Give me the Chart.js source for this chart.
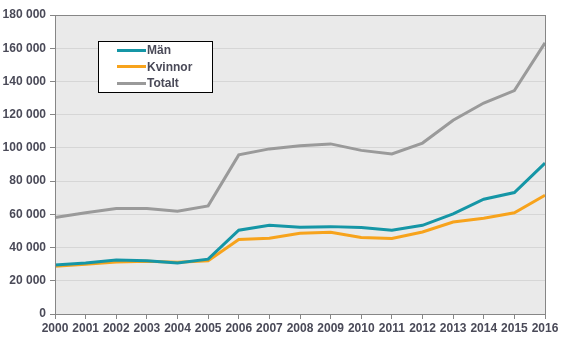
<!DOCTYPE html>
<html>
<head>
<meta charset="utf-8">
<script src="https://cdn.jsdelivr.net/npm/chart.js@4"></script>
<style>
  html, body { margin: 0; padding: 0; background: #fff; }
  #wrap { width: 567px; height: 340px; }
</style>
</head>
<body>
<div id="wrap"><canvas id="chart"></canvas></div>
<script>
const years = ['2000','2001','2002','2003','2004','2005','2006','2007','2008','2009','2010','2011','2012','2013','2014','2015','2016'];
const man = [29500, 30700, 32500, 32000, 30700, 33000, 50400, 53400, 52200, 52600, 52000, 50400, 53400, 60300, 69100, 73100, 90800];
const kvinnor = [28700, 30000, 31300, 31700, 31200, 32000, 44800, 45600, 48600, 49200, 46000, 45400, 49400, 55400, 57700, 60900, 71500];
const totalt = [58100, 61000, 63500, 63500, 61900, 65100, 95800, 99400, 101300, 102400, 98500, 96300, 102900, 116600, 127000, 134500, 163200];
const seriesNames = ['Män', 'Kvinnor', 'Totalt'];

const textColor = '#4a4a58';
const font = { family: 'Arial, "Liberation Sans", sans-serif', size: 12, weight: 'bold' };

// bakgrund och ram runt diagramytan
const plotBox = {
    id: 'plotBox',
    beforeDraw(chart) {
        const a = chart.chartArea, ctx = chart.ctx;
        ctx.save();
        ctx.fillStyle = '#eaeaea';
        ctx.fillRect(a.left, a.top, a.right - a.left, a.bottom - a.top);
        ctx.restore();
    },
    afterDatasetsDraw(chart) {
        const a = chart.chartArea, ctx = chart.ctx;
        ctx.save();
        ctx.strokeStyle = '#868686';
        ctx.lineWidth = 1;
        ctx.strokeRect(Math.round(a.left) + 0.5, Math.round(a.top) + 0.5, Math.round(a.right - a.left), Math.round(a.bottom - a.top));
        ctx.restore();
    }
};

// legend i en ruta inne i diagrammet
const boxLegend = {
    id: 'boxLegend',
    afterDraw(chart) {
        const ctx = chart.ctx;
        ctx.save();
        ctx.fillStyle = '#ffffff';
        ctx.fillRect(98, 41, 114, 51);
        ctx.strokeStyle = '#000000';
        ctx.lineWidth = 1;
        ctx.strokeRect(98.5, 41.5, 114, 51);
        ctx.font = 'bold 12px Arial, "Liberation Sans", sans-serif';
        ctx.textBaseline = 'middle';
        chart.data.datasets.forEach((ds, i) => {
            const y = 50 + i * 16.3;
            ctx.strokeStyle = ds.borderColor;
            ctx.lineWidth = 3;
            ctx.beginPath();
            ctx.moveTo(117, Math.round(y) + 0.5);
            ctx.lineTo(146, Math.round(y) + 0.5);
            ctx.stroke();
            ctx.fillStyle = textColor;
            ctx.fillText(ds.label, 147, y + 1);
        });
        ctx.restore();
    }
};

new Chart(document.getElementById('chart'), {
    type: 'line',
    data: {
        labels: years,
        datasets: [
            { label: seriesNames[0], data: man, borderColor: '#1596a6' },
            { label: seriesNames[1], data: kvinnor, borderColor: '#f7a31c' },
            { label: seriesNames[2], data: totalt, borderColor: '#9a9a9a' }
        ].map(d => Object.assign(d, { borderWidth: 3, pointRadius: 0, tension: 0, fill: false }))
    },
    options: {
        responsive: true,
        maintainAspectRatio: false,
        animation: false,
        layout: { padding: { left: 0, right: 22, top: 15, bottom: 0 } },
        plugins: { legend: { display: false }, tooltip: { enabled: false } },
        scales: {
            x: {
                offset: false,
                grid: { drawOnChartArea: false, drawTicks: true, tickLength: 5, tickColor: '#868686' },
                border: { display: false },
                ticks: { color: textColor, font: font, padding: 2, maxRotation: 0, autoSkip: false },
                afterFit(scale) { scale.height = 26; }
            },
            y: {
                min: 0,
                max: 180000,
                grid: { color: '#d6d6d6', tickLength: 5, tickColor: '#868686' },
                border: { display: false },
                ticks: {
                    stepSize: 20000,
                    color: textColor,
                    font: font,
                    padding: 4,
                    callback: v => v.toLocaleString('sv-SE').replace(/\s/g, ' ')
                },
                afterFit(scale) { scale.width = 55; }
            }
        }
    },
    plugins: [plotBox, boxLegend]
});
</script>
</body>
</html>
